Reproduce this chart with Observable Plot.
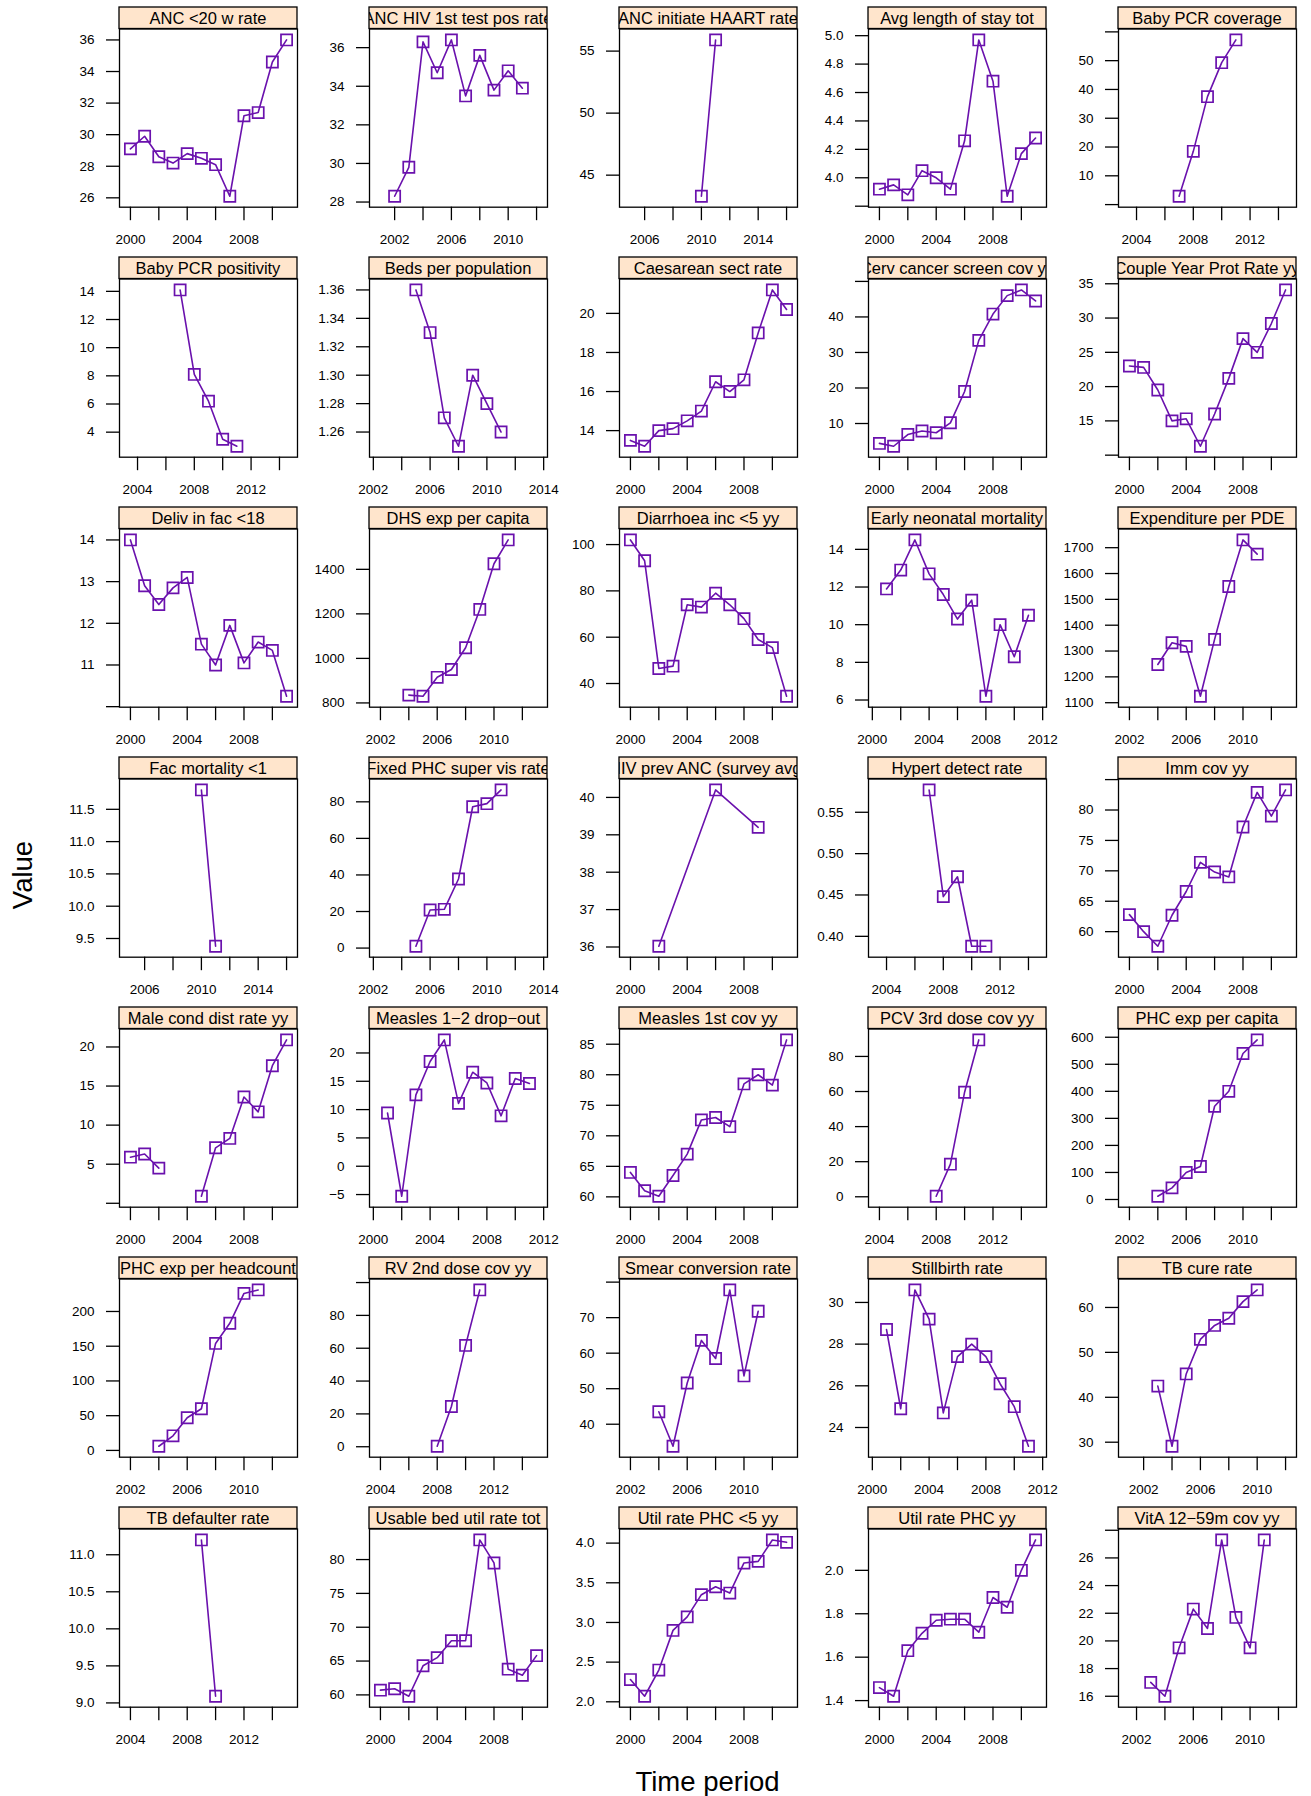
<!DOCTYPE html>
<html>
<head>
<meta charset="utf-8">
<script src="https://cdn.jsdelivr.net/npm/d3@7"></script>
<script src="https://cdn.jsdelivr.net/npm/@observablehq/plot@0.6"></script>
<style>
  html, body { margin: 0; padding: 0; background: #ffffff; }
  #chart { position: relative; width: 1311px; height: 1796px; font-family: "Liberation Sans", Arial, Helvetica, sans-serif; }
  .panel { position: absolute; }
  #titles { position: absolute; left: 0; top: 0; }
</style>
</head>
<body>
<div id="chart"></div>
<script>
// ---------------- DATA ----------------
const indicators = [
  "ANC <20 w rate", "ANC HIV 1st test pos rate", "ANC initiate HAART rate", "Avg length of stay tot", "Baby PCR coverage",
  "Baby PCR positivity", "Beds per population", "Caesarean sect rate", "Cerv cancer screen cov yy", "Couple Year Prot Rate yy",
  "Deliv in fac <18", "DHS exp per capita", "Diarrhoea inc <5 yy", "Early neonatal mortality", "Expenditure per PDE",
  "Fac mortality <1", "Fixed PHC super vis rate", "HIV prev ANC (survey avg)", "Hypert detect rate", "Imm cov yy",
  "Male cond dist rate yy", "Measles 1\u22122 drop\u2212out", "Measles 1st cov yy", "PCV 3rd dose cov yy", "PHC exp per capita",
  "PHC exp per headcount", "RV 2nd dose cov yy", "Smear conversion rate", "Stillbirth rate", "TB cure rate",
  "TB defaulter rate", "Usable bed util rate tot", "Util rate PHC <5 yy", "Util rate PHC yy", "VitA 12\u221259m cov yy"
];

// first year of each series (consecutive years follow)
const firstYears = [
  2000, 2002, 2010, 2000, 2007,
  2007, 2005, 2000, 2000, 2000,
  2000, 2004, 2000, 2001, 2004,
  2010, 2005, 2002, 2007, 2000,
  2000, 2001, 2000, 2008, 2004,
  2004, 2008, 2004, 2001, 2003,
  2009, 2000, 2000, 2000, 2003
];
// the one series with non-consecutive survey years
const hivPrevAncYears = [2002, 2006, 2009];

const ancUnder20Rate      = [29.1, 29.9, 28.6, 28.2, 28.8, 28.5, 28.1, 26.1, 31.2, 31.4, 34.6, 36.0];
const ancHivPosRate       = [28.3, 29.8, 36.3, 34.7, 36.4, 33.5, 35.6, 33.8, 34.8, 33.9];
const ancHaartRate        = [43.3, 55.9];
const avgLengthOfStay     = [3.92, 3.95, 3.88, 4.05, 4.00, 3.92, 4.26, 4.97, 4.68, 3.87, 4.17, 4.28];
const babyPcrCoverage     = [2.9, 18.5, 37.5, 49.3, 57.2];
const babyPcrPositivity   = [14.1, 8.1, 6.2, 3.5, 3.0];
const bedsPerPopulation   = [1.36, 1.33, 1.27, 1.25, 1.30, 1.28, 1.26];
const caesareanRate       = [13.5, 13.2, 14.0, 14.1, 14.5, 15.0, 16.5, 16.0, 16.6, 19.0, 21.2, 20.2];
const cervCancerScreen    = [4.4, 3.6, 6.9, 7.9, 7.4, 10.2, 19.0, 33.4, 40.8, 46.0, 47.6, 44.5];
const coupleYearProt      = [23.0, 22.8, 19.5, 15.0, 15.3, 11.3, 16.0, 21.2, 27.0, 25.0, 29.2, 34.1];
const delivInFacUnder18   = [14.0, 12.9, 12.45, 12.85, 13.1, 11.5, 11.0, 11.95, 11.05, 11.55, 11.35, 10.25];
const dhsExpPerCapita     = [835, 830, 915, 950, 1048, 1220, 1425, 1532];
const diarrhoeaUnder5     = [102, 93, 46.5, 47.5, 74, 73, 79, 74, 68, 59, 55.5, 34.5];
const earlyNeonatalMort   = [11.9, 12.9, 14.5, 12.7, 11.6, 10.3, 11.3, 6.2, 10.0, 8.3, 10.5];
const expenditurePerPde   = [1248, 1332, 1318, 1125, 1345, 1550, 1730, 1675];
const facMortalityUnder1  = [11.8, 9.38];
const fixedPhcSuperVis    = [1.0, 20.8, 21.2, 37.8, 77.3, 79.0, 86.5];
const hivPrevAnc          = [36.02, 40.2, 39.2];
const hypertDetectRate    = [0.577, 0.448, 0.472, 0.388, 0.388];
const immCov              = [62.8, 60.0, 57.6, 62.7, 66.6, 71.4, 69.8, 69.0, 77.2, 82.9, 79.0, 83.3];
const maleCondDist        = [5.9, 6.3, 4.5, null, null, 0.9, 7.1, 8.3, 13.6, 11.7, 17.6, 20.9];
const measlesDropOut      = [9.4, -5.3, 12.6, 18.5, 22.3, 11.1, 16.6, 14.7, 8.9, 15.5, 14.6];
const measles1stCov       = [64.0, 61.0, 60.1, 63.5, 67.0, 72.6, 73.0, 71.5, 78.5, 80.0, 78.3, 85.7];
const pcv3rdDoseCov       = [0.3, 18.6, 59.6, 89.4];
const phcExpPerCapita     = [12, 43, 100, 122, 345, 400, 540, 590];
const phcExpPerHeadcount  = [6, 21, 47, 60, 154, 183, 226, 231];
const rv2ndDoseCov        = [0.3, 24.5, 61.7, 95.5];
const smearConversion     = [43.5, 33.8, 51.6, 63.6, 58.5, 77.8, 53.6, 71.8];
const stillbirthRate      = [28.7, 24.9, 30.6, 29.2, 24.7, 27.4, 28.0, 27.4, 26.1, 25.0, 23.1];
const tbCureRate          = [42.5, 29.1, 45.2, 52.9, 56.0, 57.6, 61.3, 63.9];
const tbDefaulterRate     = [11.2, 9.09];
const usableBedUtil       = [60.7, 60.9, 59.8, 64.3, 65.5, 68.0, 68.0, 82.9, 79.5, 63.8, 62.9, 65.8];
const utilPhcUnder5       = [2.28, 2.07, 2.40, 2.90, 3.07, 3.35, 3.45, 3.37, 3.75, 3.77, 4.04, 4.01];
const utilPhc             = [1.46, 1.42, 1.63, 1.71, 1.77, 1.775, 1.775, 1.715, 1.875, 1.83, 2.00, 2.14];
const vitA12to59Cov       = [17.0, 16.0, 19.5, 22.3, 20.9, 27.3, 21.7, 19.5, 27.3];

const seriesList = [
  ancUnder20Rate, ancHivPosRate, ancHaartRate, avgLengthOfStay, babyPcrCoverage,
  babyPcrPositivity, bedsPerPopulation, caesareanRate, cervCancerScreen, coupleYearProt,
  delivInFacUnder18, dhsExpPerCapita, diarrhoeaUnder5, earlyNeonatalMort, expenditurePerPde,
  facMortalityUnder1, fixedPhcSuperVis, hivPrevAnc, hypertDetectRate, immCov,
  maleCondDist, measlesDropOut, measles1stCov, pcv3rdDoseCov, phcExpPerCapita,
  phcExpPerHeadcount, rv2ndDoseCov, smearConversion, stillbirthRate, tbCureRate,
  tbDefaulterRate, usableBedUtil, utilPhcUnder5, utilPhc, vitA12to59Cov
];

// ---------------- HELPERS ----------------
const PURPLE = "#6a11ad";
const FONT = '"Liberation Sans", Arial, Helvetica, sans-serif';
const PANEL_W = 178, PANEL_H = 178.2, STRIP_H = 21.5;
const COL_PITCH = 249.8, ROW_PITCH = 249.9;
const LEFT0 = 119, TOP0 = 7.3;
const PAD = 0.07; // lattice axis padding

function rows(i) {
  const vals = seriesList[i];
  const yrs = (i === 17) ? hivPrevAncYears : vals.map((_, k) => firstYears[i] + k);
  return vals.map((v, k) => ({year: yrs[k], value: v}));
}

// R's pretty() unit
function prettyUnit(lo, hi, n = 5) {
  const cell = (hi - lo) / n;
  const base = Math.pow(10, Math.floor(Math.log10(cell)));
  const h = 1.5, h5 = 0.5 + 1.5 * h;
  let unit = base;
  if (2 * base - cell < h * (cell - unit)) {
    unit = 2 * base;
    if (5 * base - cell < h5 * (cell - unit)) {
      unit = 5 * base;
      if (10 * base - cell < h * (cell - unit)) unit = 10 * base;
    }
  }
  return unit;
}
function prettyTicks(lo, hi) {
  const u = prettyUnit(lo, hi);
  const out = [];
  for (let k = Math.ceil(lo / u - 1e-9); k <= Math.floor(hi / u + 1e-9); k++) {
    out.push(Math.round(k * u * 1e9) / 1e9);
  }
  return {ticks: out, unit: u};
}

const allRows = indicators.map((_, i) => rows(i));
const xRanges = allRows.map(r => {
  const ys = r.filter(d => d.value != null).map(d => d.year);
  return [d3.min(ys), d3.max(ys)];
});
const maxXRange = d3.max(xRanges, r => r[1] - r[0]);
const halfX = maxXRange * (1 + 2 * PAD) / 2;

const chart = document.getElementById("chart");

// titles layer
const titles = d3.select(chart).append("svg").attr("id", "titles")
  .attr("width", 1311).attr("height", 1796);
titles.append("text")
  .attr("x", 707.5).attr("y", 1791)
  .attr("text-anchor", "middle")
  .attr("font-family", FONT).attr("font-size", "27.5px").attr("fill", "black")
  .text("Time period");
titles.append("text")
  .attr("transform", "translate(32,875) rotate(-90)")
  .attr("text-anchor", "middle")
  .attr("font-family", FONT).attr("font-size", "27.5px").attr("fill", "black")
  .text("Value");

const ml = 80, mr = 30, mt = STRIP_H + 2, mb = 50;

indicators.forEach((name, i) => {
  const c = i % 5, r = Math.floor(i / 5);
  const data = allRows[i];
  const vals = data.filter(d => d.value != null).map(d => d.value);
  const ymin = d3.min(vals), ymax = d3.max(vals);
  const yr = ymax - ymin;
  const ylo = ymin - PAD * yr, yhi = ymax + PAD * yr;
  const {ticks: yTicks, unit: yUnit} = prettyTicks(ylo, yhi);
  const dec = Math.max(0, Math.ceil(-Math.log10(yUnit) - 1e-9));
  const fmt = d3.format(`.${dec}f`);
  const yLabel = t => {
    const dist = Math.min(t - ylo, yhi - t) / (yhi - ylo) * PANEL_H;
    return dist < 4.1 ? "" : fmt(t);
  };

  const cx = (xRanges[i][0] + xRanges[i][1]) / 2;
  const xlo = cx - halfX, xhi = cx + halfX;
  const {ticks: xTicks} = prettyTicks(xlo, xhi);
  const xLabels = new Set(xTicks.filter((_, k) => k % 2 === 0));

  const width = ml + PANEL_W + mr;
  const height = mt + PANEL_H + mb;

  const svg = Plot.plot({
    width, height,
    marginLeft: ml, marginRight: mr, marginTop: mt, marginBottom: mb,
    x: {domain: [xlo, xhi], axis: null},
    y: {domain: [ylo, yhi], axis: null},
    style: {background: "transparent", overflow: "visible", fontFamily: FONT, fontSize: "13.5px", color: "black"},
    marks: [
      Plot.axisY(yTicks, {
        tickSize: 13, tickPadding: 12, strokeWidth: 1.3, stroke: "black",
        tickFormat: yLabel, label: null, fontSize: 13.5, fill: "black"
      }),
      Plot.axisX(xTicks, {
        tickSize: 13.5, tickPadding: 14, strokeWidth: 1.3, stroke: "black",
        tickFormat: d => xLabels.has(d) ? String(d) : "", label: null, fontSize: 13.5, fill: "black"
      }),
      Plot.lineY(data, {x: "year", y: "value", stroke: PURPLE, strokeWidth: 1.6}),
      Plot.dot(data.filter(d => d.value != null), {
        x: "year", y: "value", symbol: "square", r: 6.3,
        stroke: PURPLE, strokeWidth: 1.7, fill: "none"
      }),
      Plot.frame({stroke: "black", strokeWidth: 1.3})
    ]
  });
  svg.classList.add("panel");
  svg.style.left = (LEFT0 + COL_PITCH * c - ml) + "px";
  svg.style.top = (TOP0 + ROW_PITCH * r - 2) + "px";

  // strip (panel header)
  const s = d3.select(svg);
  const clipId = "stripclip" + i;
  s.append("clipPath").attr("id", clipId).append("rect")
    .attr("x", ml).attr("y", mt - STRIP_H).attr("width", PANEL_W).attr("height", STRIP_H);
  s.append("rect")
    .attr("x", ml).attr("y", mt - STRIP_H).attr("width", PANEL_W).attr("height", STRIP_H)
    .attr("fill", "#ffe5cc").attr("stroke", "black").attr("stroke-width", 1.3);
  s.append("text")
    .attr("x", ml + PANEL_W / 2).attr("y", mt - STRIP_H / 2)
    .attr("dy", "0.35em")
    .attr("text-anchor", "middle")
    .attr("clip-path", `url(#${clipId})`)
    .attr("font-family", FONT).attr("font-size", "16.5px").attr("fill", "black")
    .text(name);

  chart.appendChild(svg);
});
</script>
</body>
</html>
